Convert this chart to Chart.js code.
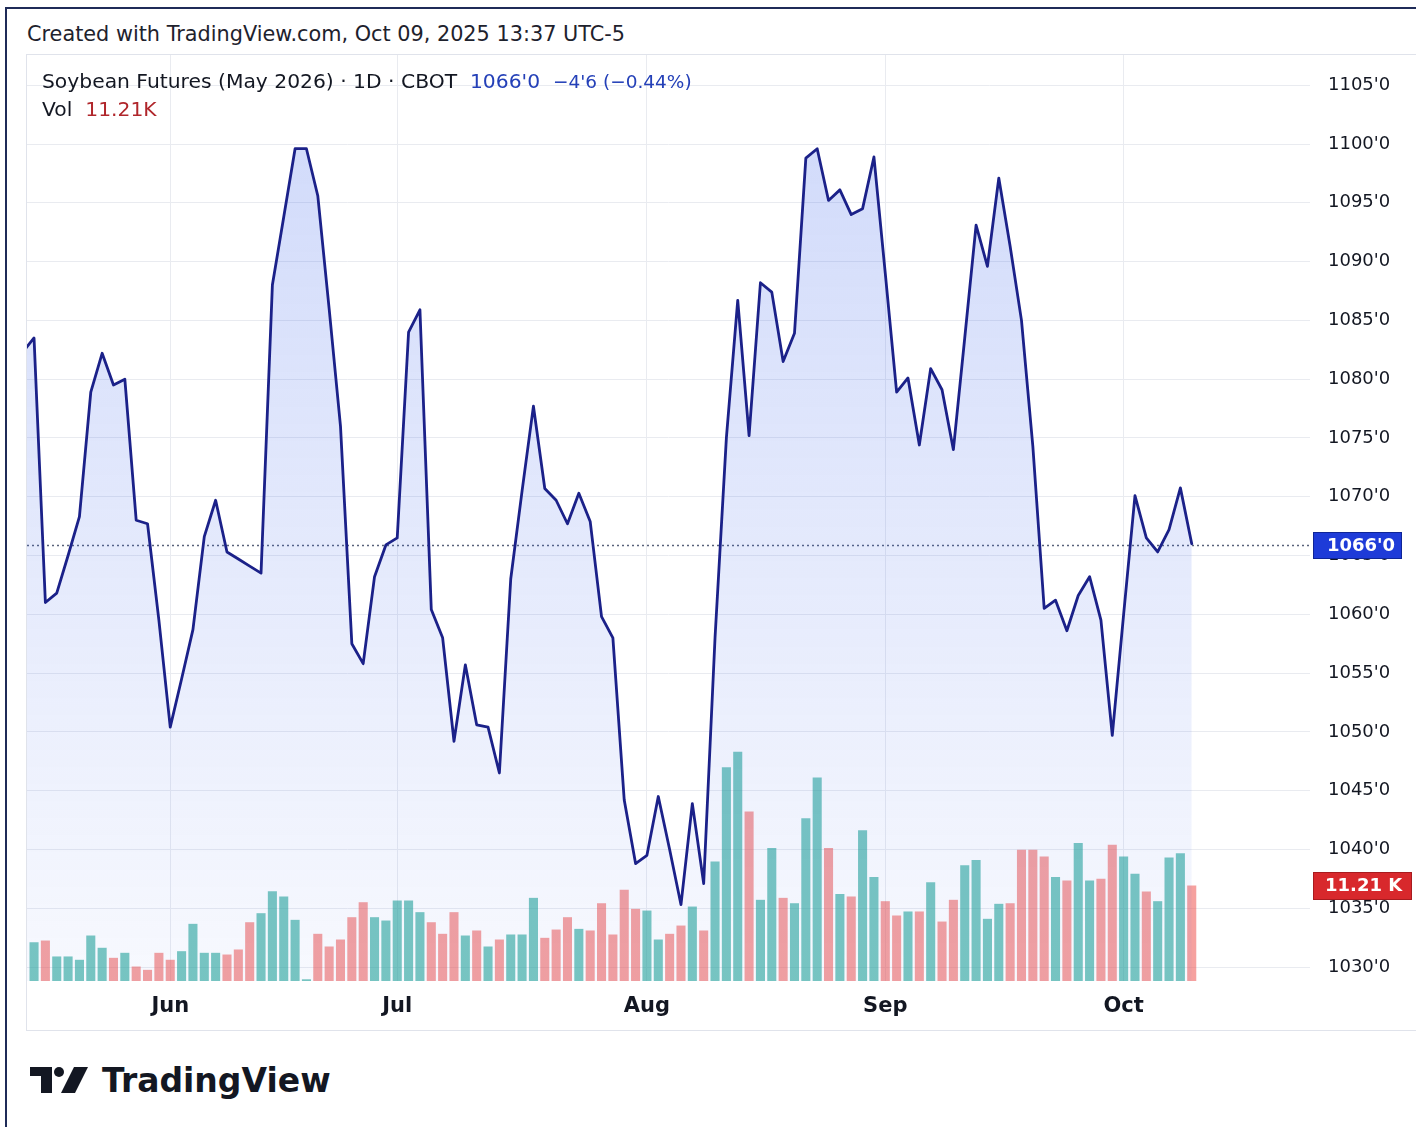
<!DOCTYPE html>
<html>
<head>
<meta charset="utf-8">
<title>Soybean Futures (May 2026) · 1D · CBOT</title>
<script src="https://cdn.jsdelivr.net/npm/chart.js@4.4.1/dist/chart.umd.min.js"></script>
<style>
html,body{margin:0;padding:0;background:#fff}
body{position:relative;width:1416px;height:1127px;overflow:hidden;font-family:"DejaVu Sans",sans-serif;color:#131722}
.frame{position:absolute;left:5px;top:7px;width:1430px;height:1140px;border-left:2px solid #1f2b58;border-top:2px solid #1f2b58}
.title{position:absolute;left:27px;top:21px;font-size:20.8px;line-height:26px;white-space:nowrap;color:#1e222d}
.panel{position:absolute;left:26px;top:54px;width:1400px;height:977px;border:1px solid #e0e3eb;box-sizing:border-box}
#box{position:absolute;left:27px;top:55px;width:1389px;height:975px}
.leg{position:absolute;left:42px;font-size:20.3px;line-height:26px;white-space:nowrap;color:#131722}
.leg .blue{color:#2440b8}
.leg .chg{font-size:18.5px}
.leg .red{color:#b0262b}
.logo{position:absolute;left:30px;top:1062px;height:36px;display:flex;align-items:center}
.logo span{font-weight:bold;font-size:33px;margin-left:14px;color:#131722}
</style>
</head>
<body>
<div class="frame"></div>
<div class="title">Created with TradingView.com, Oct 09, 2025 13:37 UTC-5</div>
<div class="panel"></div>
<div id="box"><canvas id="c"></canvas></div>
<div class="leg" style="top:68px">Soybean Futures (May 2026) · 1D · CBOT&nbsp;&nbsp;<span class="blue" id="lastTxt"></span>&nbsp;&nbsp;<span class="blue chg" id="chgTxt"></span></div>
<div class="leg" style="top:96px">Vol&nbsp;&nbsp;<span class="red" id="volTxt"></span></div>
<div class="logo">
  <svg width="58" height="26" viewBox="0 0 58 26">
    <path d="M0 0H22V26H11V9H0Z" fill="#131722"/>
    <circle cx="29" cy="5" r="5" fill="#131722"/>
    <path d="M44 0H58L45 26H31Z" fill="#131722"/>
  </svg>
  <span>TradingView</span>
</div>
<script>
// trading calendar
const startDate='2025-05-13';
const holidays=['2025-05-26','2025-06-19','2025-07-04','2025-09-01'];
const monthNames=['Jan','Feb','Mar','Apr','May','Jun','Jul','Aug','Sep','Oct','Nov','Dec'];

// daily closes (first one sits just left of the visible range)
const closes=[1082.3,
  1083.5,1061.0,1061.8,1065.0,1068.3,1078.9,1082.2,1079.5,1080.0,1068.0,
  1067.7,1059.5,1050.4,1054.5,1058.7,1066.6,1069.7,1065.3,1064.7,1064.1,
  1063.5,1088.0,1093.8,1099.6,1099.6,1095.6,1086.0,1076.0,1057.5,1055.8,
  1063.2,1065.9,1066.5,1084.0,1085.9,1060.4,1058.0,1049.2,1055.7,1050.6,
  1050.4,1046.5,1063.0,1070.5,1077.7,1070.7,1069.7,1067.7,1070.3,1067.9,
  1059.8,1058.0,1044.2,1038.8,1039.5,1044.5,1040.0,1035.3,1043.9,1037.1,
  1058.0,1075.0,1086.7,1075.2,1088.2,1087.4,1081.5,1083.9,1098.8,1099.6,
  1095.2,1096.1,1094.0,1094.5,1098.9,1089.0,1078.9,1080.1,1074.4,1080.9,
  1079.1,1074.0,1083.5,1093.1,1089.6,1097.1,1091.3,1085.0,1074.3,1060.5,
  1061.2,1058.6,1061.6,1063.2,1059.5,1049.7,1060.0,1070.1,1066.5,1065.3,
  1067.2,1070.75,1066.0];

// volume in thousands of contracts
const volumes=[null,
  4.55,4.75,2.88,2.88,2.49,5.34,3.90,2.72,3.31,1.70,
  1.31,3.31,2.49,3.50,6.71,3.31,3.31,3.11,3.70,6.90,
  7.96,10.54,9.92,7.18,0.20,5.54,4.05,4.87,7.49,9.25,
  7.49,7.10,9.45,9.45,8.08,6.90,5.54,8.08,5.34,5.93,
  4.05,4.87,5.46,5.46,9.76,5.07,6.04,7.49,6.12,5.93,
  9.13,5.46,10.70,8.47,8.27,4.87,5.54,6.51,8.74,5.93,
  14.03,25.10,26.90,19.90,9.53,15.60,9.76,9.13,19.10,23.90,
  15.60,10.20,9.92,17.70,12.20,9.37,7.69,8.16,8.16,11.60,
  6.98,9.53,13.60,14.20,7.30,9.06,9.13,15.40,15.40,14.60,
  12.20,11.80,16.20,11.80,12.00,16.00,14.60,12.60,10.50,9.37,
  14.50,15.00,11.21];

// 1 = up bar (green), 0 = down bar (red)
const volUp=[1,
  1,0,1,1,1,1,1,0,1,0,
  0,0,0,1,1,1,1,0,0,0,
  1,1,1,1,1,0,0,0,0,0,
  1,1,1,1,1,0,0,0,1,0,
  1,0,1,1,1,0,0,0,1,0,
  0,0,0,0,1,1,0,0,1,0,
  1,1,1,0,1,1,0,1,1,1,
  0,1,0,1,1,0,0,1,0,1,
  0,0,1,1,1,1,0,0,0,0,
  1,0,1,1,0,0,1,1,0,1,
  1,1,0];

const priceTicks=[1030,1035,1040,1045,1050,1055,1060,1065,1070,1075,1080,1085,1090,1095,1100,1105];
const changeText="\u22124'6 (\u22120.44%)";
const volText='11.21K';
const volTag='11.21 K';

function tradingDays(start,n){
  const out=[];const d=new Date(start+'T12:00:00Z');
  while(out.length<n){
    const iso=d.toISOString().slice(0,10);const wd=d.getUTCDay();
    if(wd!==0&&wd!==6&&!holidays.includes(iso)) out.push(iso);
    d.setUTCDate(d.getUTCDate()+1);
  }
  return out;
}
function fmtPrice(v){const w=Math.floor(v);return w+"'"+Math.round((v-w)*8)}

const days=tradingDays(startDate,closes.length);
const monthTicks=[];
days.forEach((d,i)=>{ if(i>0&&d.slice(5,7)!==days[i-1].slice(5,7)) monthTicks.push(i) });
const lastIdx=closes.length-1;

document.getElementById('lastTxt').textContent=fmtPrice(closes[lastIdx]);
document.getElementById('chgTxt').textContent=changeText;
document.getElementById('volTxt').textContent=volText;

Chart.defaults.font.family='"DejaVu Sans", sans-serif';
Chart.defaults.color='#131722';

function tag(ctx,x,yc,w,h,fill,stroke,text,tx){
  ctx.save();
  ctx.fillStyle=fill;ctx.strokeStyle=stroke;ctx.lineWidth=1;
  ctx.fillRect(x,Math.round(yc-h/2),w,h);
  ctx.strokeRect(x+0.5,Math.round(yc-h/2)+0.5,w-1,h-1);
  ctx.fillStyle='#fff';ctx.font='bold 18px "DejaVu Sans", sans-serif';
  ctx.textBaseline='middle';ctx.textAlign='left';
  ctx.fillText(text,tx,yc+1);
  ctx.restore();
}

const markers={
  id:'markers',
  beforeDatasetsDraw(chart){
    const {ctx,chartArea:a,scales:{y}}=chart;
    const py=Math.round(y.getPixelForValue(closes[lastIdx]))+1.5;
    ctx.save();ctx.beginPath();ctx.setLineDash([2,3]);ctx.lineWidth=1.5;ctx.strokeStyle='#58627a';
    ctx.moveTo(a.left,py);ctx.lineTo(a.right,py);ctx.stroke();ctx.restore();
  },
  afterDraw(chart){
    const {ctx,chartArea:a,scales:{y,yVol}}=chart;
    tag(ctx,a.right+3,y.getPixelForValue(closes[lastIdx])+2,89,27,'#1e3bd8','#0f2597',fmtPrice(closes[lastIdx]),a.right+17);
    tag(ctx,a.right+3,yVol.getPixelForValue(volumes[lastIdx]),99,28,'#d8282c','#a81b1f',volTag,a.right+15);
  }
};

// no label overhang padding: the plot fills the panel edge to edge
function noPad(s){s.paddingTop=0;s.paddingBottom=0;s.paddingLeft=0;s.paddingRight=0}

new Chart(document.getElementById('c'),{
  data:{
    datasets:[
      {
        type:'line',label:'Close',yAxisID:'y',order:1,
        data:closes.map((v,i)=>({x:i,y:v})),
        borderColor:'#1b2189',borderWidth:2.8,pointRadius:0,tension:0,
        borderJoinStyle:'round',borderCapStyle:'round',clip:0,
        fill:'start',
        backgroundColor:(c)=>{
          const a=c.chart.chartArea;
          if(!a) return 'rgba(60,100,235,0.12)';
          const g=c.chart.ctx.createLinearGradient(0,a.top,0,a.bottom);
          g.addColorStop(0,'rgba(60,100,235,0.25)');
          g.addColorStop(1,'rgba(60,100,235,0.04)');
          return g;
        }
      },
      {
        type:'bar',label:'Vol',yAxisID:'yVol',order:2,
        data:volumes.map((v,i)=>({x:i,y:v})),
        backgroundColor:volUp.map(u=>u?'rgba(38,166,154,0.62)':'rgba(239,83,80,0.55)'),
        borderWidth:0,barPercentage:1,categoryPercentage:0.8
      }
    ]
  },
  options:{
    responsive:true,maintainAspectRatio:false,animation:false,
    layout:{padding:0},
    plugins:{legend:{display:false},tooltip:{enabled:false}},
    scales:{
      x:{
        type:'linear',min:0.38,max:113.42,offset:false,bounds:'data',
        grid:{color:'#e9ebf0',offset:false,drawTicks:true,tickLength:13,tickColor:'rgba(0,0,0,0)'},border:{display:false},
        afterBuildTicks:s=>{s.ticks=monthTicks.map(v=>({value:v}))},
        ticks:{padding:0,autoSkip:false,maxRotation:0,font:{size:21,weight:'bold'},color:'#131722',
          callback:v=>monthNames[+days[v].slice(5,7)-1]},
        afterFit:s=>{s.height=49;noPad(s)}
      },
      y:{
        position:'right',min:1028.81,max:1107.57,
        grid:{color:'#e9ebf0',drawTicks:true,tickLength:18,tickColor:'rgba(0,0,0,0)'},border:{display:false},
        afterBuildTicks:s=>{s.ticks=priceTicks.map(v=>({value:v}))},
        ticks:{padding:0,font:{size:18},color:'#131722',callback:v=>fmtPrice(v)},
        afterFit:s=>{s.width=106;noPad(s)}
      },
      yVol:{display:false,min:0,max:108.7}
    }
  },
  plugins:[markers]
});
</script>
</body>
</html>
